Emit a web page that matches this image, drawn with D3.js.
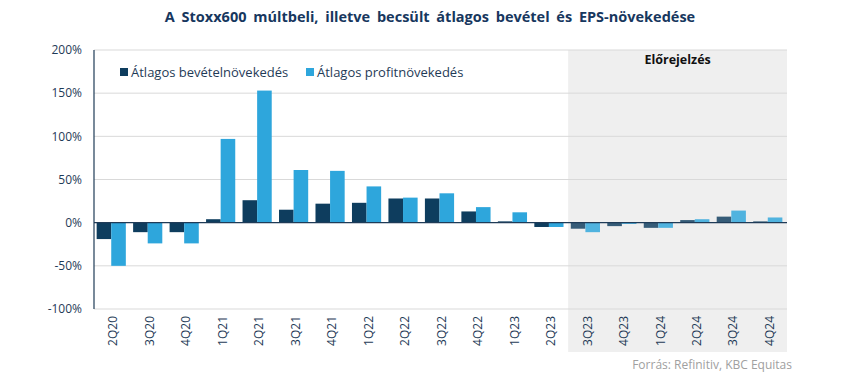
<!DOCTYPE html>
<meta charset="utf-8">
<script src="https://d3js.org/d3.v7.min.js"></script>
<style>
  body { margin: 0; background: #fff; }
  text { font-family: "Open Sans", "Liberation Sans", sans-serif; }
</style>
<div id="chart"></div>
<script>
// quarters on the x axis
var quarters = ["2Q20","3Q20","4Q20","1Q21","2Q21","3Q21","4Q21","1Q22","2Q22","3Q22","4Q22","1Q23","2Q23","3Q23","4Q23","1Q24","2Q24","3Q24","4Q24"];
// average revenue growth (%)
var revenue = [-19, -11, -11, 4, 26, 15, 22, 23, 28, 28, 13, 1.5, -5, -7, -4, -6, 3, 7, 1.5];
// average profit growth (%)
var profit = [-50, -24, -24, 97, 153, 61, 60, 42, 29, 34, 18, 12, -5, -11, -1.5, -6, 4, 14, 6];
var forecastFrom = "3Q23";
var yTicks = [-100, -50, 0, 50, 100, 150, 200];

var W = 850, H = 377;
var margin = {top: 50, right: 63, bottom: 68, left: 94};
var width = W - margin.left - margin.right,
    height = H - margin.top - margin.bottom;

var svg = d3.select("#chart").append("svg")
  .attr("width", W).attr("height", H);

svg.append("text")
  .attr("x", 430).attr("y", 22)
  .attr("text-anchor", "middle")
  .attr("fill", "#17375e")
  .style("font-weight", "bold")
  .style("font-size", "14.5px")
  .style("word-spacing", "3px")
  .text("A Stoxx600 múltbeli, illetve becsült átlagos bevétel és EPS-növekedése");

var g = svg.append("g")
  .attr("transform", "translate(" + margin.left + "," + margin.top + ")");

var x = d3.scaleBand().domain(quarters).range([-1, width - 1]).paddingInner(0.2).paddingOuter(0.1);
var x1 = d3.scaleBand().domain(["rev", "prof"]).range([0, x.bandwidth()]);
var y = d3.scaleLinear().domain([-100, 200]).range([height, 0]);

// forecast background
var step = width / quarters.length;
var fx = quarters.indexOf(forecastFrom) * step;
g.append("rect")
  .attr("x", fx).attr("y", 0)
  .attr("width", width - fx).attr("height", height + 43)
  .attr("fill", "#efefef");

g.append("text")
  .attr("x", fx + (width - fx) / 2).attr("y", 14)
  .attr("text-anchor", "middle")
  .attr("fill", "#111")
  .style("font-weight", "bold")
  .style("font-size", "12.5px")
  .text("Előrejelzés");

// grid
g.selectAll(".grid").data(yTicks.filter(function(d) { return d !== 0; }))
  .enter().append("line")
  .attr("x1", 0).attr("x2", width)
  .attr("y1", function(d) { return y(d); }).attr("y2", function(d) { return y(d); })
  .attr("stroke", "#d9d9d9").attr("stroke-width", 1);

// y axis labels
g.selectAll(".ylab").data(yTicks).enter().append("text")
  .attr("x", -12).attr("y", function(d) { return y(d); })
  .attr("dy", "0.35em")
  .attr("text-anchor", "end")
  .attr("fill", "#1f3b57")
  .style("font-size", "12px")
  .text(function(d) { return d + "%"; });

// bars
var groups = g.selectAll(".q").data(quarters).enter().append("g")
  .attr("transform", function(d) { return "translate(" + x(d) + ",0)"; })
  .style("opacity", function(d, i) { return i >= quarters.indexOf(forecastFrom) ? 0.82 : 1; });

groups.append("rect")
  .attr("x", x1("rev")).attr("width", x1.bandwidth())
  .attr("y", function(d, i) { return y(Math.max(0, revenue[i])); })
  .attr("height", function(d, i) { return Math.abs(y(revenue[i]) - y(0)); })
  .attr("fill", "#0e3d5e");

groups.append("rect")
  .attr("x", x1("prof")).attr("width", x1.bandwidth())
  .attr("y", function(d, i) { return y(Math.max(0, profit[i])); })
  .attr("height", function(d, i) { return Math.abs(y(profit[i]) - y(0)); })
  .attr("fill", "#2ea6dc");

// zero line and y axis line
g.append("line")
  .attr("x1", 0).attr("x2", width)
  .attr("y1", y(0)).attr("y2", y(0))
  .attr("stroke", "#1f3b57").attr("stroke-width", 1.2);
g.append("line")
  .attr("x1", 0).attr("x2", 0)
  .attr("y1", 0).attr("y2", height)
  .attr("stroke", "#1f3b57").attr("stroke-width", 1.2);

// x labels, rotated
g.selectAll(".xlab").data(quarters).enter().append("text")
  .attr("transform", function(d) {
    return "translate(" + (x(d) + x.bandwidth() / 2 + 2) + "," + (height + 7) + ") rotate(-90)";
  })
  .attr("text-anchor", "end")
  .attr("dy", "0.35em")
  .attr("fill", "#1f3b57")
  .style("font-size", "12px")
  .text(function(d) { return d; });

// legend
var legend = [
  {name: "Átlagos bevételnövekedés", color: "#0e3d5e", x: 26},
  {name: "Átlagos profitnövekedés", color: "#2ea6dc", x: 212}
];
var lg = g.selectAll(".lg").data(legend).enter().append("g")
  .attr("transform", function(d) { return "translate(" + d.x + ",21)"; });
lg.append("rect").attr("width", 8).attr("height", 8).attr("y", -3)
  .attr("fill", function(d) { return d.color; });
lg.append("text").attr("x", 11).attr("y", 1).attr("dy", "0.35em")
  .attr("fill", "#1f3b57")
  .style("font-size", "13px")
  .text(function(d) { return d.name; });

// source
svg.append("text")
  .attr("x", 792).attr("y", 369)
  .attr("text-anchor", "end")
  .attr("fill", "#a0a0a0")
  .style("font-size", "12px")
  .text("Forrás: Refinitiv, KBC Equitas");
</script>
